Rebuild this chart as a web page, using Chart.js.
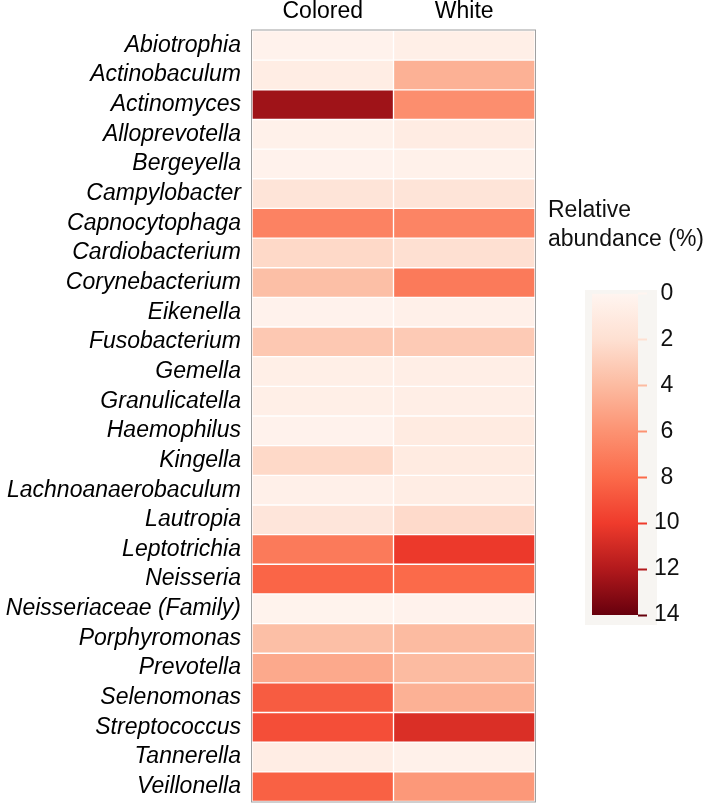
<!DOCTYPE html>
<html>
<head>
<meta charset="utf-8">
<script src="https://cdn.jsdelivr.net/npm/chart.js@4.4.0/dist/chart.umd.min.js"></script>
<style>
  body { margin: 0; background: #fff; }
  #wrap { position: relative; width: 709px; height: 805px; font-family: "Liberation Sans", Arial, sans-serif; }
  #heat { position: absolute; left: 0; top: 0; }
  #panel { position: absolute; left: 585px; top: 290px; width: 72px; height: 335px; background: #f7f5f2; }
  #bar { position: absolute; left: 540px; top: 280px; }
  #legendTitle { position: absolute; left: 548px; top: 195px; font-size: 23px; line-height: 29px; color: #111; }
</style>
</head>
<body>
<div id="wrap">
  <canvas id="heat" width="709" height="805"></canvas>
  <div id="legendTitle">Relative<br>abundance (%)</div>
  <div id="panel"></div>
  <canvas id="bar" width="169" height="360"></canvas>
</div>
<script>
    const genera = ['Abiotrophia', 'Actinobaculum', 'Actinomyces', 'Alloprevotella', 'Bergeyella',
        'Campylobacter', 'Capnocytophaga', 'Cardiobacterium', 'Corynebacterium', 'Eikenella',
        'Fusobacterium', 'Gemella', 'Granulicatella', 'Haemophilus', 'Kingella',
        'Lachnoanaerobaculum', 'Lautropia', 'Leptotrichia', 'Neisseria', 'Neisseriaceae (Family)',
        'Porphyromonas', 'Prevotella', 'Selenomonas', 'Streptococcus', 'Tannerella', 'Veillonella'];
    const groups = ['Colored', 'White'];

    // relative abundance (%)
    const colored = [0.3, 0.8, 12.5, 0.4, 0.3, 1.6, 6.8, 2.4, 3.8, 0.3,
        3.3, 0.6, 0.6, 0.3, 2.4, 0.5, 1.5, 7.2, 8.2, 0.2,
        3.8, 4.9, 8.6, 9.2, 0.8, 8.4];
    const white = [0.6, 4.5, 6.2, 0.9, 0.4, 1.6, 6.7, 2.0, 7.2, 0.5,
        3.2, 0.7, 0.7, 1.0, 1.0, 0.8, 2.3, 10.1, 8.0, 0.3,
        4.0, 4.0, 4.5, 10.7, 0.4, 5.7];

    const scaleTicks = [0, 2, 4, 6, 8, 10, 12, 14];
    const scaleColors = ['#fff5f0', '#fee0d2', '#fcbba1', '#fc9272', '#fb6a4a', '#ef3b2c', '#b2191c', '#67000d'];

    const family = '"Liberation Sans", Arial, sans-serif';

    function hexToRgb(h) {
        return [1, 3, 5].map(i => parseInt(h.substr(i, 2), 16));
    }

    function colorFor(v) {
        const last = scaleTicks.length - 1;
        if (v <= scaleTicks[0]) return scaleColors[0];
        if (v >= scaleTicks[last]) return scaleColors[last];
        let i = 0;
        while (v > scaleTicks[i + 1]) i++;
        const t = (v - scaleTicks[i]) / (scaleTicks[i + 1] - scaleTicks[i]);
        const a = hexToRgb(scaleColors[i]), b = hexToRgb(scaleColors[i + 1]);
        const c = a.map((x, k) => Math.round(x + (b[k] - x) * t));
        return 'rgb(' + c.join(',') + ')';
    }

    // no extra room for half labels, the layout padding decides
    function noLabelPad(s) {
        s.paddingTop = 0;
        s.paddingBottom = 0;
    }

    const frame = {
        id: 'frame',
        afterDatasetsDraw(chart) {
            const {ctx, chartArea: a} = chart;
            ctx.save();
            ctx.strokeStyle = '#a0a0a0';
            ctx.lineWidth = 1;
            ctx.strokeRect(a.left - 0.5, a.top - 0.5, a.right - a.left + 1, a.bottom - a.top + 1);
            ctx.restore();
        }
    };

    new Chart(document.getElementById('heat'), {
        type: 'bar',
        data: {
            labels: genera,
            datasets: [colored, white].map((vals, i) => ({
                label: groups[i],
                data: vals.map(() => [i, i + 1]),
                backgroundColor: vals.map(colorFor),
                borderColor: 'rgba(255,255,255,0.2)',
                borderWidth: 1,
                borderSkipped: false,
                grouped: false,
                barPercentage: 1,
                categoryPercentage: 1
            }))
        },
        options: {
            indexAxis: 'y',
            responsive: false,
            animation: false,
            layout: {padding: {right: 174, bottom: 3.5}},
            plugins: {legend: {display: false}, tooltip: {enabled: false}},
            scales: {
                x: {
                    type: 'linear', position: 'top', min: 0, max: 2,
                    grid: {display: false, drawTicks: false}, border: {display: false},
                    afterBuildTicks: s => { s.ticks = [{value: 0.5}, {value: 1.5}]; },
                    afterFit: s => { s.height = 30.5; },
                    ticks: {
                        padding: 5.5, color: '#000', font: {size: 23, family: family},
                        callback: v => groups[Math.floor(v)]
                    }
                },
                y: {
                    grid: {display: false, drawTicks: false}, border: {display: false},
                    afterFit: s => { s.width = 252; noLabelPad(s); },
                    ticks: {autoSkip: false, padding: 11, color: '#000', font: {size: 23, style: 'italic', family: family}}
                }
            }
        },
        plugins: [frame]
    });

    new Chart(document.getElementById('bar'), {
        type: 'bar',
        data: {
            labels: [''],
            datasets: [{
                data: [[scaleTicks[0], scaleTicks[scaleTicks.length - 1]]],
                backgroundColor: function (ctx) {
                    const chart = ctx.chart;
                    const y = chart.scales.y;
                    if (!chart.chartArea || !y) return scaleColors[3];
                    const lo = scaleTicks[0], hi = scaleTicks[scaleTicks.length - 1];
                    const g = chart.ctx.createLinearGradient(0, y.getPixelForValue(lo), 0, y.getPixelForValue(hi));
                    scaleTicks.forEach((t, i) => g.addColorStop((t - lo) / (hi - lo), scaleColors[i]));
                    return g;
                },
                barPercentage: 1,
                categoryPercentage: 1
            }]
        },
        options: {
            responsive: false,
            animation: false,
            layout: {padding: {left: 52, top: 13.5, bottom: 25}},
            plugins: {legend: {display: false}, tooltip: {enabled: false}},
            scales: {
                x: {display: false},
                y: {
                    position: 'right', reverse: true, min: 0, max: 14,
                    afterFit: s => { s.width = 71; noLabelPad(s); },
                    grid: {
                        drawOnChartArea: false, tickLength: 9, tickWidth: 2,
                        tickColor: c => colorFor(c.tick ? c.tick.value : 0)
                    },
                    border: {display: false},
                    ticks: {stepSize: 2, padding: 7, crossAlign: 'center', color: '#111', font: {size: 23, family: family}}
                }
            }
        }
    });
</script>
</body>
</html>
